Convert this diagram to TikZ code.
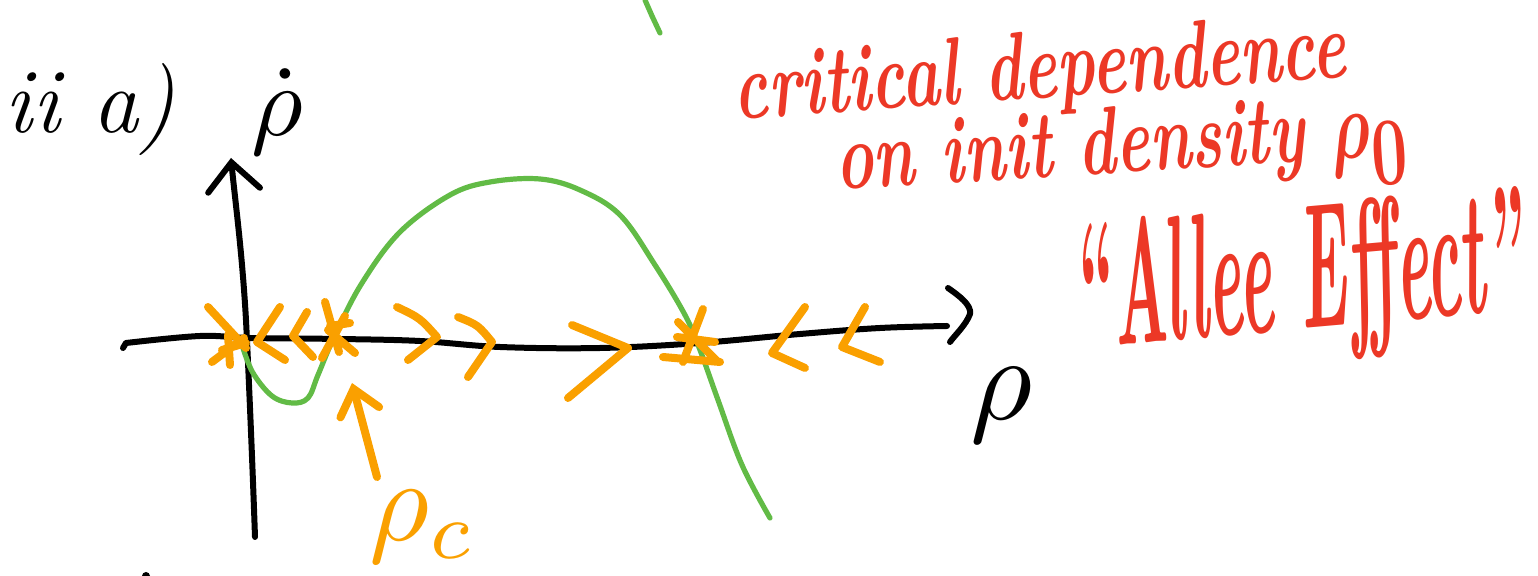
\documentclass[tikz,border=0pt]{standalone}
\usetikzlibrary{arrows.meta}
\definecolor{gr}{RGB}{98,187,70}
\definecolor{og}{RGB}{250,160,0}
\definecolor{rd}{RGB}{236,56,38}
\newcommand{\hwbox}[3]{\scalebox{#1}[#2]{#3}}
\begin{document}
\begin{tikzpicture}[x=0.5pt,y=-0.5pt,
  blk/.style={line width=3pt,black,line cap=round,line join=round},
  grn/.style={line width=2.6pt,gr,line cap=round,line join=round},
  org/.style={line width=4pt,og,line cap=round,line join=round},
  blab/.style={inner sep=0pt,black,font=\normalsize},
  olab/.style={inner sep=0pt,og,font=\normalsize},
  rtext/.style={inner sep=0pt,rd,font=\fontsize{37}{40}\selectfont\bfseries\itshape},
  rbig/.style={inner sep=0pt,rd,font=\fontsize{48}{52}\selectfont\bfseries\itshape}]
\useasboundingbox (0,0) rectangle (1538,576);

% labels
\node[blab,font=\fontsize{46}{50}\selectfont\itshape] (part) at (90,110) {ii a)};
\node[blab] (rhodot) at (277,112) {\scalebox{5}{$\dot\rho$}};
\node[blab] (rho) at (1002,405) {\scalebox{6}{$\rho$}};
\node[olab] (rhoc) at (423,527) {\scalebox{5.8}{$\rho_c$}};
\node[rtext,rotate=4] (l1) at (1040,74) {\hwbox{0.87}{1.3}{critical dependence}};
\node[rtext,rotate=3.5] (l2) at (1122,153) {\hwbox{0.86}{1.3}{on init density \scalebox{1.5}{\mathversion{bold}$\rho_0$}}};
\node[rbig,rotate=5] (l3) at (1298,284) {\hwbox{0.67}{1.85}{“Allee Effect”}};

% axes
\coordinate (yb) at (255,537);
\coordinate (yt) at (231,158);
\draw[blk,-{Straight Barb[length=14pt,width=26pt,line cap=round]}] (yb) .. controls (252,450) and (248,360) .. (246,320) .. controls (242,250) and (235,200) .. (yt);
\coordinate (xl) at (126,343);
\coordinate (xr) at (947,326);
\draw[blk] (123,348) -- (xl) plot[smooth,tension=0.6] coordinates {(xl) (200,336) (250,338) (340,339) (420,341) (500,347) (600,348) (700,343) (800,334) (880,328) (xr)};
\draw[blk] (948,288) .. controls (958,295) and (972,305) .. (970,314) .. controls (966,325) and (955,335) .. (950,342);

% green curve
\draw[grn] plot[smooth,tension=0.6] coordinates {(243,348) (253,373) (272,396) (292,403) (308,398) (318,375) (335,335) (362,283) (400,232) (450,195) (490,182) (540,179) (580,190) (620,215) (655,265) (685,315) (700,350) (718,400) (742,465) (770,518)};
\draw[grn] (645,0) -- (652,16) -- (660,33);

% orange fixed points
\draw[org] (208,307) -- (246,348) (212,362) -- (244,338) (228,335) -- (230,365) (222,350) -- (246,343);
\draw[org] (325,302) -- (339,352) (328,330) -- (355,353) (330,326) -- (350,323) (322,358) -- (345,316);
\draw[org] (678,322) -- (718,362) (703,309) -- (683,362) (663,357) -- (720,362) (677,337) -- (715,342);
% orange flow chevrons
\draw[org] (280,307) -- (257,342) -- (285,360);
\draw[org] (307,312) -- (293,336) -- (313,357);
\draw[org] (397,307) .. controls (420,318) .. (437,337) -- (408,360);
\draw[org] (458,317) .. controls (478,325) .. (492,342) -- (468,377);
\draw[org] (572,325) -- (628,348) -- (568,398);
\draw[org] (805,307) -- (772,353) -- (805,368);
\draw[org] (865,307) -- (842,347) -- (880,362);

% rho_c pointer
\coordinate (ctail) at (377,477);
\coordinate (chead) at (352,383);
\draw[org,-{Straight Barb[length=12pt,width=20pt,line cap=round]}] (ctail) -- (chead);

% stray dot
\fill[black] (146,576) circle (2pt);
\end{tikzpicture}
\end{document}
